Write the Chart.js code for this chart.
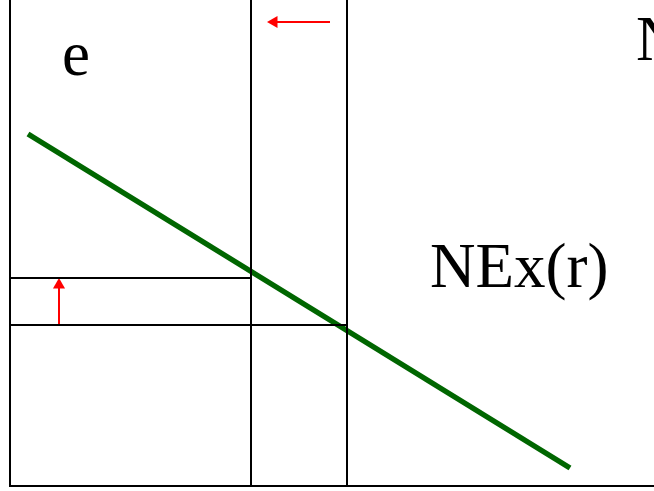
<!DOCTYPE html>
<html>
<head>
<meta charset="utf-8">
<script src="https://cdn.jsdelivr.net/npm/chart.js@4"></script>
<style>
  html, body { margin: 0; padding: 0; background: #fff; }
  #wrap { width: 654px; height: 491px; }
</style>
</head>
<body>
<div id="wrap"><canvas id="myChart"></canvas></div>
<script>
// curve NEx(r) (origin at the axes corner)
const nexX = [18, 560];
const nexY = [352, 18];

// the two guide levels
const guideX = [241, 337];
const guideY = [208, 161];

// axes
const axisTop = 486;
const axisRight = 644;

// arrows: [from, to]
const arrowLeftX = [320, 264];
const arrowLeftY = 464;
const arrowUpX = 49;
const arrowUpY = [161, 201];

// texts
const labels = [
  { text: 'e', x: 52, y: 411 },
  { text: 'NEx(r)', x: 420, y: 199 },
  { text: 'N', x: 626, y: 426 }
];

const black = (data) => ({
  data: data, showLine: true, borderColor: '#000', borderWidth: 2,
  pointRadius: 0, clip: false
});

const textPlugin = {
  id: 'texts',
  afterDatasetsDraw(chart) {
    const c = chart.ctx;
    const sx = chart.scales.x, sy = chart.scales.y;
    c.save();
    c.fillStyle = '#000';
    c.font = '63px "Liberation Serif", "Times New Roman", serif';
    c.textBaseline = 'alphabetic';
    labels.forEach(l => {
      c.fillText(l.text, sx.getPixelForValue(l.x), sy.getPixelForValue(l.y));
    });
    c.restore();
  }
};

const ctx = document.getElementById('myChart');
new Chart(ctx, {
  type: 'scatter',
  data: {
    datasets: [
      black([{x: 0, y: 0}, {x: 0, y: axisTop}]),
      black([{x: -1, y: 0}, {x: axisRight, y: 0}]),
      black([{x: guideX[0], y: 0}, {x: guideX[0], y: axisTop}]),
      black([{x: guideX[1], y: 0}, {x: guideX[1], y: axisTop}]),
      black([{x: 0, y: guideY[0]}, {x: guideX[0], y: guideY[0]}]),
      black([{x: 0, y: guideY[1]}, {x: guideX[1], y: guideY[1]}]),
      {
        data: [{x: nexX[0], y: nexY[0]}, {x: nexX[1], y: nexY[1]}],
        showLine: true, borderColor: '#006600', borderWidth: 5.5,
        pointRadius: 0, clip: false
      },
      {
        data: [{x: arrowLeftX[0], y: arrowLeftY}, {x: arrowLeftX[1], y: arrowLeftY}],
        showLine: true, borderColor: '#ff0000', borderWidth: 2,
        backgroundColor: '#ff0000', pointBorderWidth: 0,
        pointStyle: 'triangle', pointRadius: [0, 7], rotation: -90, clip: false
      },
      {
        data: [{x: arrowUpX, y: arrowUpY[0]}, {x: arrowUpX, y: arrowUpY[1]}],
        showLine: true, borderColor: '#ff0000', borderWidth: 2,
        backgroundColor: '#ff0000', pointBorderWidth: 0,
        pointStyle: 'triangle', pointRadius: [0, 7], rotation: 0, clip: false
      }
    ]
  },
  options: {
    responsive: true,
    maintainAspectRatio: false,
    animation: false,
    layout: { padding: 0, autoPadding: false },
    plugins: { legend: { display: false }, tooltip: { enabled: false } },
    scales: {
      x: { type: 'linear', min: -10, max: 644, display: false },
      y: { type: 'linear', min: -5, max: 486, display: false }
    }
  },
  plugins: [textPlugin]
});
</script>
</body>
</html>
